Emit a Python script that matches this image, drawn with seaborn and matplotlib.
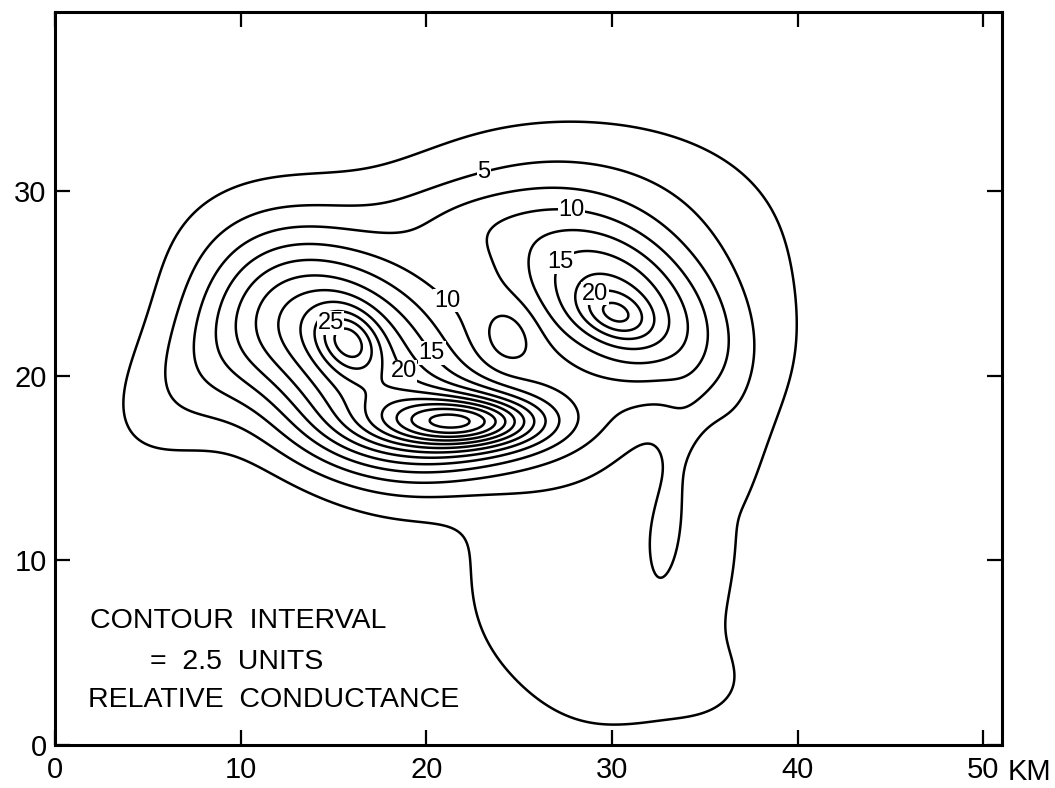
import numpy as np
import matplotlib
matplotlib.use("Agg")
import matplotlib.pyplot as plt
import seaborn as sns

# ---- data: anomaly components of the relative-conductance field (km, units) ----
comp_name = ["body", "north", "col", "west", "left_broad", "left_peak", "ridge_broad",
             "ridge_peak", "right_broad", "right_peak", "lobe", "lobe_w", "lobe_se",
             "east_flank", "finger", "hole"]
comp_x = [27.0, 27.0, 22.0, 8.0, 15.5, 15.8, 21.7, 22.0, 30.5, 30.2, 29.8, 24.5, 35.5,
          37.3, 33.3, 24.4]
comp_y = [23.5, 29.0, 28.3, 20.5, 21.5, 21.9, 17.3, 17.5, 23.8, 23.3, 7.3, 8.5, 3.0,
          14.0, 13.5, 22.2]
comp_amp = [6.0, 2.5, 2.0, 4.5, 18.0, 8.0, 10.0, 14.0, 12.0, 5.5, 3.6, 1.2, 1.5,
            1.5, 2.4, -2.8]
comp_sx = [9.0, 7.0, 3.0, 4.5, 5.2, 1.3, 5.0, 2.7, 4.2, 1.3, 5.3, 2.0, 2.0, 1.6, 0.9, 1.1]
comp_sy = [6.0, 3.5, 1.5, 2.5, 3.4, 1.0, 1.8, 0.9, 2.6, 0.8, 5.6, 2.5, 1.6, 5.0, 4.0, 1.3]
comp_rot = [5.0, 5.0, 0.0, 45.0, -40.0, -50.0, 0.0, 0.0, -35.0, -20.0, 0.0, 0.0, 0.0,
            10.0, -8.0, 0.0]
comp_pow = [1.0, 1.0, 1.0, 1.0, 1.0, 1.0, 1.0, 1.0, 1.0, 1.0, 2.0, 1.0, 1.0, 1.0, 1.0, 1.0]

contour_step = 2.5
label_levels = [5, 10, 10, 15, 15, 20, 20, 25, 35]
label_pos = [(23.2, 30.8), (21.0, 24.0), (27.7, 27.8), (20.3, 21.2), (27.2, 26.2),
             (18.4, 19.9), (29.0, 24.5), (14.6, 23.2), (22.0, 17.4)]

x_ticks = [0, 10, 20, 30, 40, 50]
y_ticks = [0, 10, 20, 30]
note_lines = ["CONTOUR  INTERVAL", "=  2.5  UNITS", "RELATIVE  CONDUCTANCE"]

sns.set_theme(style="ticks")
plt.rcParams["font.family"] = ["Liberation Sans", "DejaVu Sans"]
plt.rcParams["text.color"] = "black"

xs = np.linspace(0, 51, 520)
ys = np.linspace(0, 39.7, 420)
X, Y = np.meshgrid(xs, ys)
Z = np.zeros_like(X)
for cx, cy, a, sx, sy, r, p in zip(comp_x, comp_y, comp_amp, comp_sx, comp_sy,
                                   comp_rot, comp_pow):
    t = np.deg2rad(r)
    dx, dy = X - cx, Y - cy
    u = dx * np.cos(t) + dy * np.sin(t)
    v = -dx * np.sin(t) + dy * np.cos(t)
    q = u ** 2 / (2 * sx ** 2) + v ** 2 / (2 * sy ** 2)
    Z += a * np.exp(-q ** p)

fig = plt.figure(figsize=(10.55, 7.88), dpi=100)
ax = fig.add_axes([55 / 1055, 1 - 745 / 788, (1002 - 55) / 1055, (745 - 12) / 788])
levels = np.arange(contour_step, Z.max() + 0.01, contour_step)
cs = ax.contour(X, Y, Z, levels=levels, colors="black", linewidths=1.8)

for lev, (px, py) in zip(label_levels, label_pos):
    idx = [i for i, l in enumerate(cs.levels) if abs(l - lev) < 1e-6]
    if not idx:
        continue
    segs = [s for s in cs.allsegs[idx[0]] if len(s)]
    if not segs:
        continue
    pts = np.vstack(segs)
    k = np.argmin((pts[:, 0] - px) ** 2 + (pts[:, 1] - py) ** 2)
    ax.text(pts[k, 0], pts[k, 1], f"{lev}", fontsize=17, ha="center", va="center",
            color="black", zorder=5,
            bbox=dict(facecolor="white", edgecolor="none", pad=0.5))

ax.set_xlim(0, 51)
ax.set_ylim(0, 39.7)
ax.set_xticks(x_ticks)
ax.set_yticks(y_ticks)
ax.set_xticklabels([str(v) for v in x_ticks])
ax.set_yticklabels([str(v) for v in y_ticks])
ax.tick_params(direction="in", length=11, width=1.6, top=True, right=True,
               labelsize=21, colors="black", labelcolor="black")
ax.tick_params(axis="x", pad=8)
ax.tick_params(axis="y", pad=6)
for s in ax.spines.values():
    s.set_linewidth(2.2)
    s.set_color("black")
ax.text(51.3, -0.72, "KM", fontsize=21, ha="left", va="top", color="black")

ax.text(1.9, 6.7, note_lines[0], fontsize=20.5, ha="left", va="center", color="black")
ax.text(5.1, 4.5, note_lines[1], fontsize=20.5, ha="left", va="center", color="black")
ax.text(1.8, 2.45, note_lines[2], fontsize=20.5, ha="left", va="center", color="black")

fig.savefig("out.png", dpi=100)
